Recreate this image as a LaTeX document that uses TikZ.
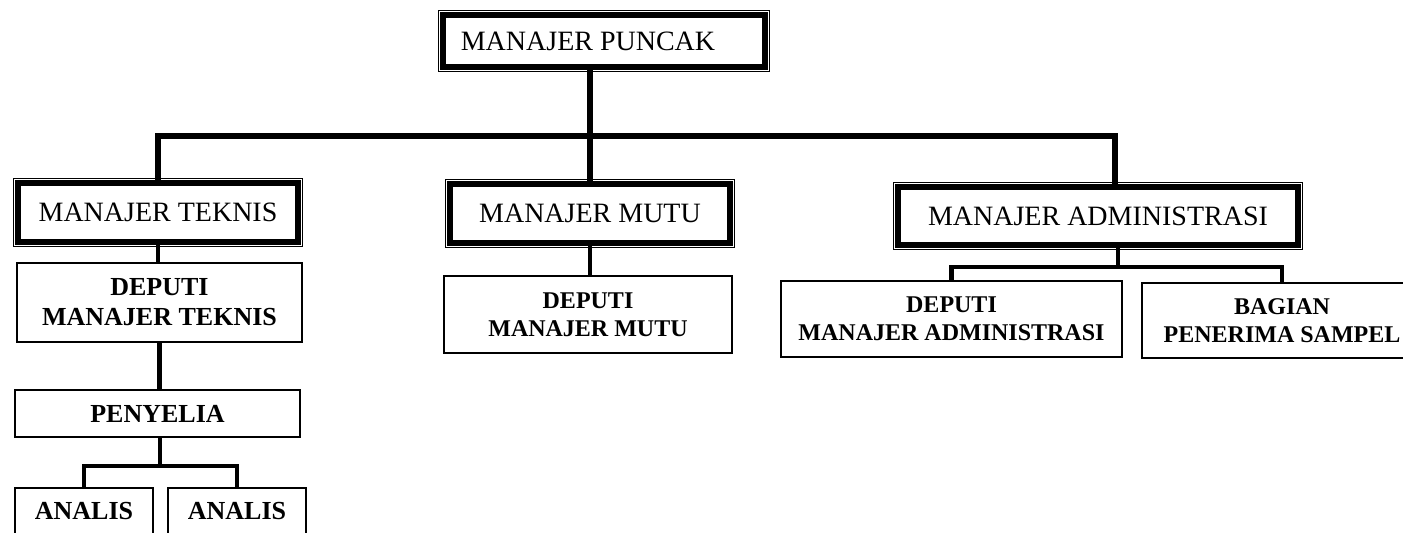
\documentclass[tikz,border=0pt]{standalone}
\usepackage{fontspec}
\setmainfont{Liberation Serif}
\tikzset{
  mainbox/.style={draw, line width=2.8pt, outer sep=0pt, inner sep=0pt, font=\fontsize{14}{16}\selectfont},
  subbox/.style={draw, line width=1.1pt, outer sep=0pt, inner sep=0pt, align=center, font=\fontsize{12}{14}\selectfont\bfseries},
  bus/.style={line width=3pt},
  link/.style={line width=2.3pt}
}

\begin{document}
\begin{tikzpicture}[x=0.5pt, y=-0.5pt]

  \useasboundingbox (0,0) rectangle (1403,533);
  \clip (0,0) rectangle (1403,533);

  %% managers
  \node[mainbox, minimum width=161pt, minimum height=26pt] (puncak) at (604,41) {MANAJER PUNCAK\hspace*{16pt}};
  \node[mainbox, minimum width=140pt, minimum height=29.5pt] (teknis) at (158,212.5) {MANAJER TEKNIS};
  \node[mainbox, minimum width=140pt, minimum height=29.5pt] (mutu) at (590,213.5) {MANAJER MUTU};
  \node[mainbox, minimum width=200pt, minimum height=29pt] (admin) at (1098,216) {MANAJER ADMINISTRASI};

  % thin outer frame of the managers
  \foreach \n in {puncak,teknis,mutu,admin}
    \draw[line width=0.6pt] ([shift={(-4.6,-4.6)}]\n.north west) rectangle ([shift={(4.6,4.6)}]\n.south east);

  %% staff
  \node[subbox, font=\fontsize{13}{15}\selectfont\bfseries, minimum width=142.5pt, minimum height=39.5pt] (dteknis) at (159.5,302.5) {DEPUTI\\MANAJER TEKNIS};
  \node[subbox, font=\fontsize{13}{15}\selectfont\bfseries, minimum width=142.5pt, minimum height=23.5pt] (penyelia) at (157.5,413.5) {PENYELIA};
  \node[subbox, font=\fontsize{13}{15}\selectfont\bfseries, minimum width=69pt, text height=16pt, text depth=24pt, anchor=north] (analis1) at (84,488) {ANALIS};
  \node[subbox, font=\fontsize{13}{15}\selectfont\bfseries, minimum width=69pt, text height=16pt, text depth=24pt, anchor=north] (analis2) at (237,488) {ANALIS};
  \node[subbox, minimum width=144pt, minimum height=38.5pt] (dmutu) at (588,314.5) {DEPUTI\\MANAJER MUTU};
  \node[subbox, minimum width=170.5pt, minimum height=38pt] (dadmin) at (951.5,319) {DEPUTI\\MANAJER ADMINISTRASI};
  \node[subbox, minimum width=140pt, minimum height=37.5pt] (bagian) at (1282,320.5) {BAGIAN\\PENERIMA SAMPEL};

  %% top lines
  \coordinate (busR) at (1115,136);
  \draw[bus] (teknis.north) |- (busR) -- (busR |- admin.north);
  \draw[bus] (puncak.south -| mutu.north) -- (mutu.north);

  %% teknis branch
  \draw[link] (teknis.south) -- (teknis.south |- dteknis.north);
  \draw[link] (dteknis.south) -- (dteknis.south |- penyelia.north);
  \coordinate (pyfork) at (160,466);
  \draw[link] (penyelia.south -| pyfork) -- (pyfork);
  \draw[link] (analis1.north) |- (pyfork) -| (analis2.north);

  %% mutu branch
  \draw[link] (mutu.south) -- (mutu.south |- dmutu.north);

  %% admin branch
  \coordinate (adfork) at (1118,267);
  \draw[link] (admin.south -| adfork) -- (adfork);
  \draw[link] (dadmin.north) |- (adfork) -| (bagian.north);

\end{tikzpicture}
\end{document}
